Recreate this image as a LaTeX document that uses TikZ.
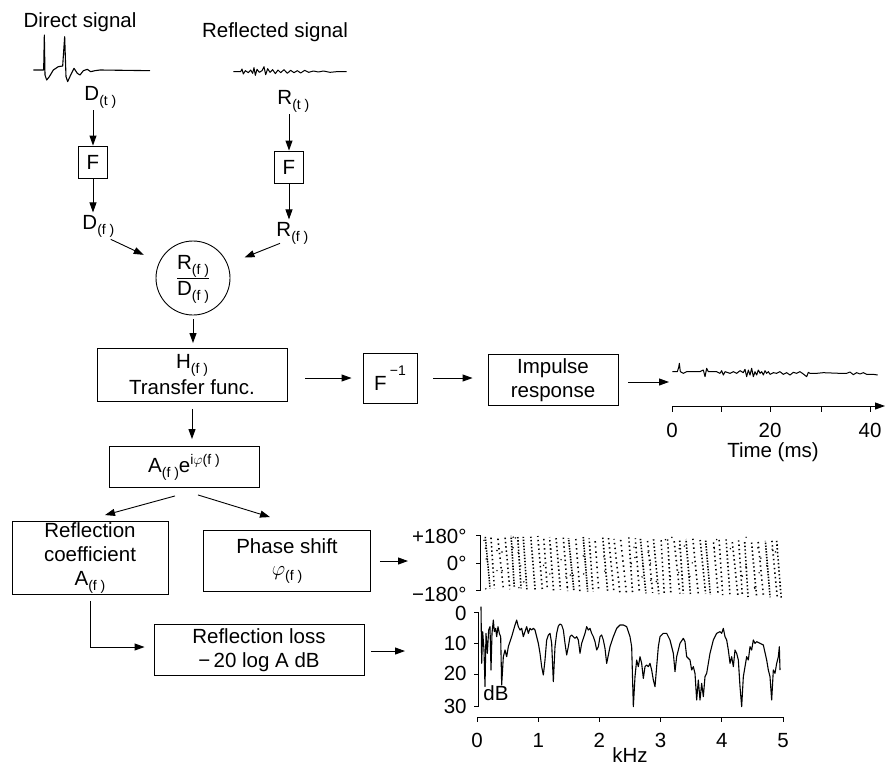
\documentclass[tikz,border=0pt]{standalone}
\usepackage{fontspec}
\setmainfont{Liberation Sans}
\usetikzlibrary{arrows.meta}
\newcommand{\sbx}[1]{\raisebox{-5pt}{\fontsize{14}{14}\selectfont #1}}
\newcommand{\spx}[2]{\raisebox{#1}{\fontsize{14}{14}\selectfont #2}}
\begin{document}
\begin{tikzpicture}[x=1pt, y=-1pt, font=\fontsize{20.5}{24}\selectfont, line width=0.9pt,
  box/.style={draw, inner sep=0pt, align=center},
  lbl/.style={inner sep=2pt},
  arr/.style={-{Triangle[length=10pt,width=7pt]}, line width=0.9pt},
  wave/.style={line width=1.1pt, line join=round},
  tl/.style={inner sep=0pt, anchor=base}]
\useasboundingbox (0,0) rectangle (885,774);
\fill[white] (0,0) rectangle (885,774);

% titles and input waveforms
\node[anchor=base] (tdir) at (80,27) {Direct signal};
\node[anchor=base] (tref) at (275,37) {Reflected signal};
\begin{scope}[scale=1/3]
\draw[wave] plot coordinates {(100,210) (131,210) (133,105) (135,225) (140,240) (148,230) (160,210) (175,200) (188,198) (194,110) (198,230) (203,245) (212,225) (222,205) (232,220) (240,225) (250,212) (262,208) (272,215) (285,212) (300,210) (450,212)};
\draw[wave, line width=1pt] plot coordinates {(700,215) (722,215) (726,207) (730,222) (736,212) (745,218) (752,210) (758,220) (762,203) (766,226) (771,208) (778,217) (786,212) (792,200) (797,224) (803,206) (810,217) (818,209) (826,221) (834,210) (842,218) (852,209) (862,220) (872,211) (882,218) (892,212) (902,219) (914,211) (926,217) (940,213) (955,216) (970,213) (990,217) (1010,215) (1040,215)};
\end{scope}

% nodes
\node[lbl, anchor=base west] (Dt) at (82,100) {D\sbx{(t )}};
\node[lbl, anchor=base west] (Rt) at (275,104) {R\sbx{(t )}};
\node[box, minimum width=29pt, minimum height=32pt] (F1) at (93,162) {F};
\node[box, minimum width=29pt, minimum height=32pt] (F2) at (289,167) {F};
\node[lbl, anchor=base west] (Df) at (80,229) {D\sbx{(f )}};
\node[lbl, anchor=base west] (Rf) at (274,236) {R\sbx{(f )}};
\node[draw, circle, minimum size=74pt, inner sep=0pt] (C) at (193,278)
  {\begin{tabular}{@{}c@{}}R\sbx{(f )}\\\hline D\sbx{(f )}\end{tabular}};
\node[box, minimum width=190pt, minimum height=53pt] (H) at (192,375) {H\sbx{(f )}\\[2pt]Transfer func.};
\node[box, minimum width=54pt, minimum height=50pt] (Finv) at (390,378) {F\,\spx{15pt}{−1}};
\node[box, minimum width=130pt, minimum height=51pt] (Imp) at (553,380) {Impulse\\response};
\node[box, minimum width=150pt, minimum height=41pt] (A) at (184,467) {A\sbx{(f )}e\spx{8pt}{i$\varphi$(f )}};
\node[box, minimum width=156pt, minimum height=73pt] (RC) at (90,558) {Reflection\\coefficient\\A\sbx{(f )}};
\node[box, minimum width=167pt, minimum height=61pt] (PS) at (287,561) {Phase shift\\[-2pt]$\varphi$\sbx{(f )}};
\node[box, minimum width=210pt, minimum height=51pt] (RL) at (259,650) {Reflection loss\\−\,20 log A dB};

\coordinate (wv) at (669,382);
\coordinate (pp) at (408,561);
\coordinate (lp) at (405,651);

% connectors
\draw[arr] (Dt.south -| F1.north) -- (F1.north);
\draw[arr] (F1.south) -- (F1.south |- Df.north);
\draw[arr] (Rt.south -| F2.north) -- (F2.north);
\draw[arr] (F2.south) -- (F2.south |- Rf.north);
\draw[arr, shorten >=17pt] ([xshift=-6pt]Df.south east) -- (C);
\draw[arr, shorten >=18pt] ([xshift=6pt,yshift=3pt]Rf.south west) -- (C);
\draw[arr, shorten <=4pt, shorten >=5pt] (C) -- (C |- H.north);
\draw[arr, shorten <=18pt, shorten >=11pt] (H.east |- Finv.west) -- (Finv.west);
\draw[arr, shorten <=16pt, shorten >=15pt] (Finv.east) -- (Finv.east -| Imp.west);
\draw[arr, shorten <=10pt] (Imp.east |- wv) -- (wv);
\draw[arr, shorten <=7pt, shorten >=7pt] (H.south) -- (H.south |- A.north);
\draw[arr] ([xshift=-9pt,yshift=-8pt]A.south) -- ([xshift=15pt,yshift=6pt]RC.north);
\draw[arr] ([xshift=14pt,yshift=-7pt]A.south) -- ([xshift=-17pt,yshift=13pt]PS.north);
\draw[arr, shorten <=9pt] (PS.east |- pp) -- (pp);
\draw[arr] ([yshift=-6pt]RC.south) |- ([xshift=-9pt,yshift=3pt]RL.west);
\draw[arr, shorten <=7pt] (RL.east |- lp) -- (lp);

% impulse response plot
\begin{scope}[shift={(440,340)}, scale=1/3]
\draw[wave, line width=1pt] plot coordinates {(697,95) (712,95) (716,82) (718,70) (721,95) (730,100) (740,95) (780,95) (790,90) (795,110) (800,85) (805,95) (830,95) (840,100) (845,92) (850,105) (855,95) (870,100) (880,95) (890,100) (900,92) (910,98) (915,88) (920,110) (925,90) (930,105) (935,85) (940,110) (945,95) (950,105) (955,90) (960,100) (965,95) (970,105) (975,92) (980,100) (985,95) (990,103) (1000,98) (1010,100) (1020,95) (1030,103) (1040,98) (1050,105) (1060,97) (1070,100) (1080,95) (1090,102) (1100,110) (1105,97) (1110,100) (1130,100) (1150,98) (1200,100) (1220,100) (1230,96) (1240,104) (1250,98) (1260,102) (1270,98) (1280,103) (1300,103) (1313,105)};
\end{scope}
\coordinate (tax0) at (672,406);
\coordinate (tax1) at (885,406);
\draw[arr] (tax0) -- (tax1);
\foreach \x in {672,721,770,821,870} \draw (\x,406) -- (\x,412);
\node[tl] (t0) at (672,437) {0};
\node[tl] (t20) at (770,437) {20};
\node[tl] (t40) at (870,437) {40};
\node[tl] (tlab) at (773,457) {Time (ms)};

% phase plot
\draw (476,535) -- (480,535) -- (480,590) -- (476,590);
\draw (476,563) -- (480,563);
\node[inner sep=0pt, anchor=base east] (p1) at (467,543) {+180°};
\node[inner sep=0pt, anchor=base east] (p2) at (467,570) {0°};
\node[inner sep=0pt, anchor=base east] (p3) at (467,601) {−180°};
\pgfmathsetseed{11}
\foreach \i in {0,...,45} {
  \pgfmathsetmacro\xa{484+\i*6.5+2*rnd}
  \pgfmathsetmacro\ya{535+\i*0.11+2*rnd}
  \pgfmathsetmacro\yb{589+\i*0.2-2*rnd}
  \pgfmathsetmacro\off{4*rnd}
  \pgfmathsetmacro\gap{1.2+2.6*rnd}
  \pgfmathsetmacro\sl{3+3*rnd}
  \draw[line width=1.6pt, dash pattern=on 1.4pt off \gap pt, dash phase=\off pt] (\xa,\ya) -- (\xa+\sl,\yb);
}
\foreach \i in {0,...,60} {
  \pgfmathsetmacro\xd{484+296*rnd}
  \pgfmathsetmacro\yd{537+52*rnd}
  \fill (\xd,\yd) circle (0.8pt);
}

% reflection loss plot
\draw (474,612) -- (478,612) -- (478,706) -- (474,706);
\draw (474,643) -- (478,643);
\draw (474,674) -- (478,674);
\node[inner sep=0pt, anchor=base east] (l0) at (467,620) {0};
\node[inner sep=0pt, anchor=base east] (l10) at (467,650) {10};
\node[inner sep=0pt, anchor=base east] (l20) at (467,680) {20};
\node[inner sep=0pt, anchor=base east] (l30) at (467,713) {30};
\node[inner sep=0pt, anchor=base west] (dB) at (483,700) {dB};
\draw (477,717) -- (783,717);
\foreach \k in {0,...,5} {
  \draw (477+61.2*\k,717) -- (477+61.2*\k,722);
  \node[tl] at (477+61.2*\k,747) {\k};
}
\node[tl] (khz) at (630,762) {kHz};
\begin{scope}[shift={(400,600)}, scale=1/3]
\draw[wave] plot coordinates {(243,20) (245,190) (248,95) (252,150) (255,260) (258,100) (262,160) (266,90) (270,80) (273,210) (276,100) (280,60) (283,95) (287,85) (290,110) (294,80) (298,100) (302,110) (305,255) (310,170) (315,150) (320,170) (325,140) (335,110) (345,75) (350,60) (355,80) (360,90) (365,85) (370,110) (375,95) (380,80) (385,100) (390,85) (395,90) (400,85) (405,90) (410,110) (415,130) (420,160) (425,200) (430,225) (435,180) (440,120) (445,105) (450,100) (455,130) (460,245) (465,140) (470,100) (475,78) (480,72) (485,75) (490,90) (495,130) (500,165) (505,140) (510,110) (515,105) (520,110) (525,115) (530,110) (535,120) (540,160) (545,130) (550,115) (555,100) (560,80) (565,90) (570,85) (575,100) (580,110) (585,125) (590,150) (595,140) (600,110) (605,105) (610,120) (615,145) (620,190) (625,165) (630,140) (640,110) (650,85) (660,75) (670,75) (680,80) (690,110) (695,140) (700,320) (705,230) (710,180) (715,200) (720,170) (725,190) (730,235) (735,200) (740,195) (745,200) (750,190) (755,210) (760,240) (765,260) (770,200) (775,140) (780,110) (790,100) (800,100) (810,120) (820,160) (825,215) (830,170) (840,130) (850,115) (855,125) (860,170) (870,180) (875,210) (880,200) (885,220) (890,300) (895,240) (900,300) (905,250) (910,290) (915,230) (920,220) (930,160) (940,120) (950,100) (960,95) (965,100) (970,85) (975,110) (980,120) (985,150) (990,190) (995,170) (1000,200) (1005,150) (1010,160) (1015,180) (1020,260) (1025,320) (1030,230) (1035,200) (1040,170) (1045,180) (1050,140) (1055,150) (1060,120) (1065,130) (1070,125) (1080,130) (1090,135) (1100,180) (1105,210) (1110,230) (1115,300) (1120,210) (1125,220) (1130,190) (1135,170) (1138,140) (1140,210)};
\end{scope}
\end{tikzpicture}
\end{document}
